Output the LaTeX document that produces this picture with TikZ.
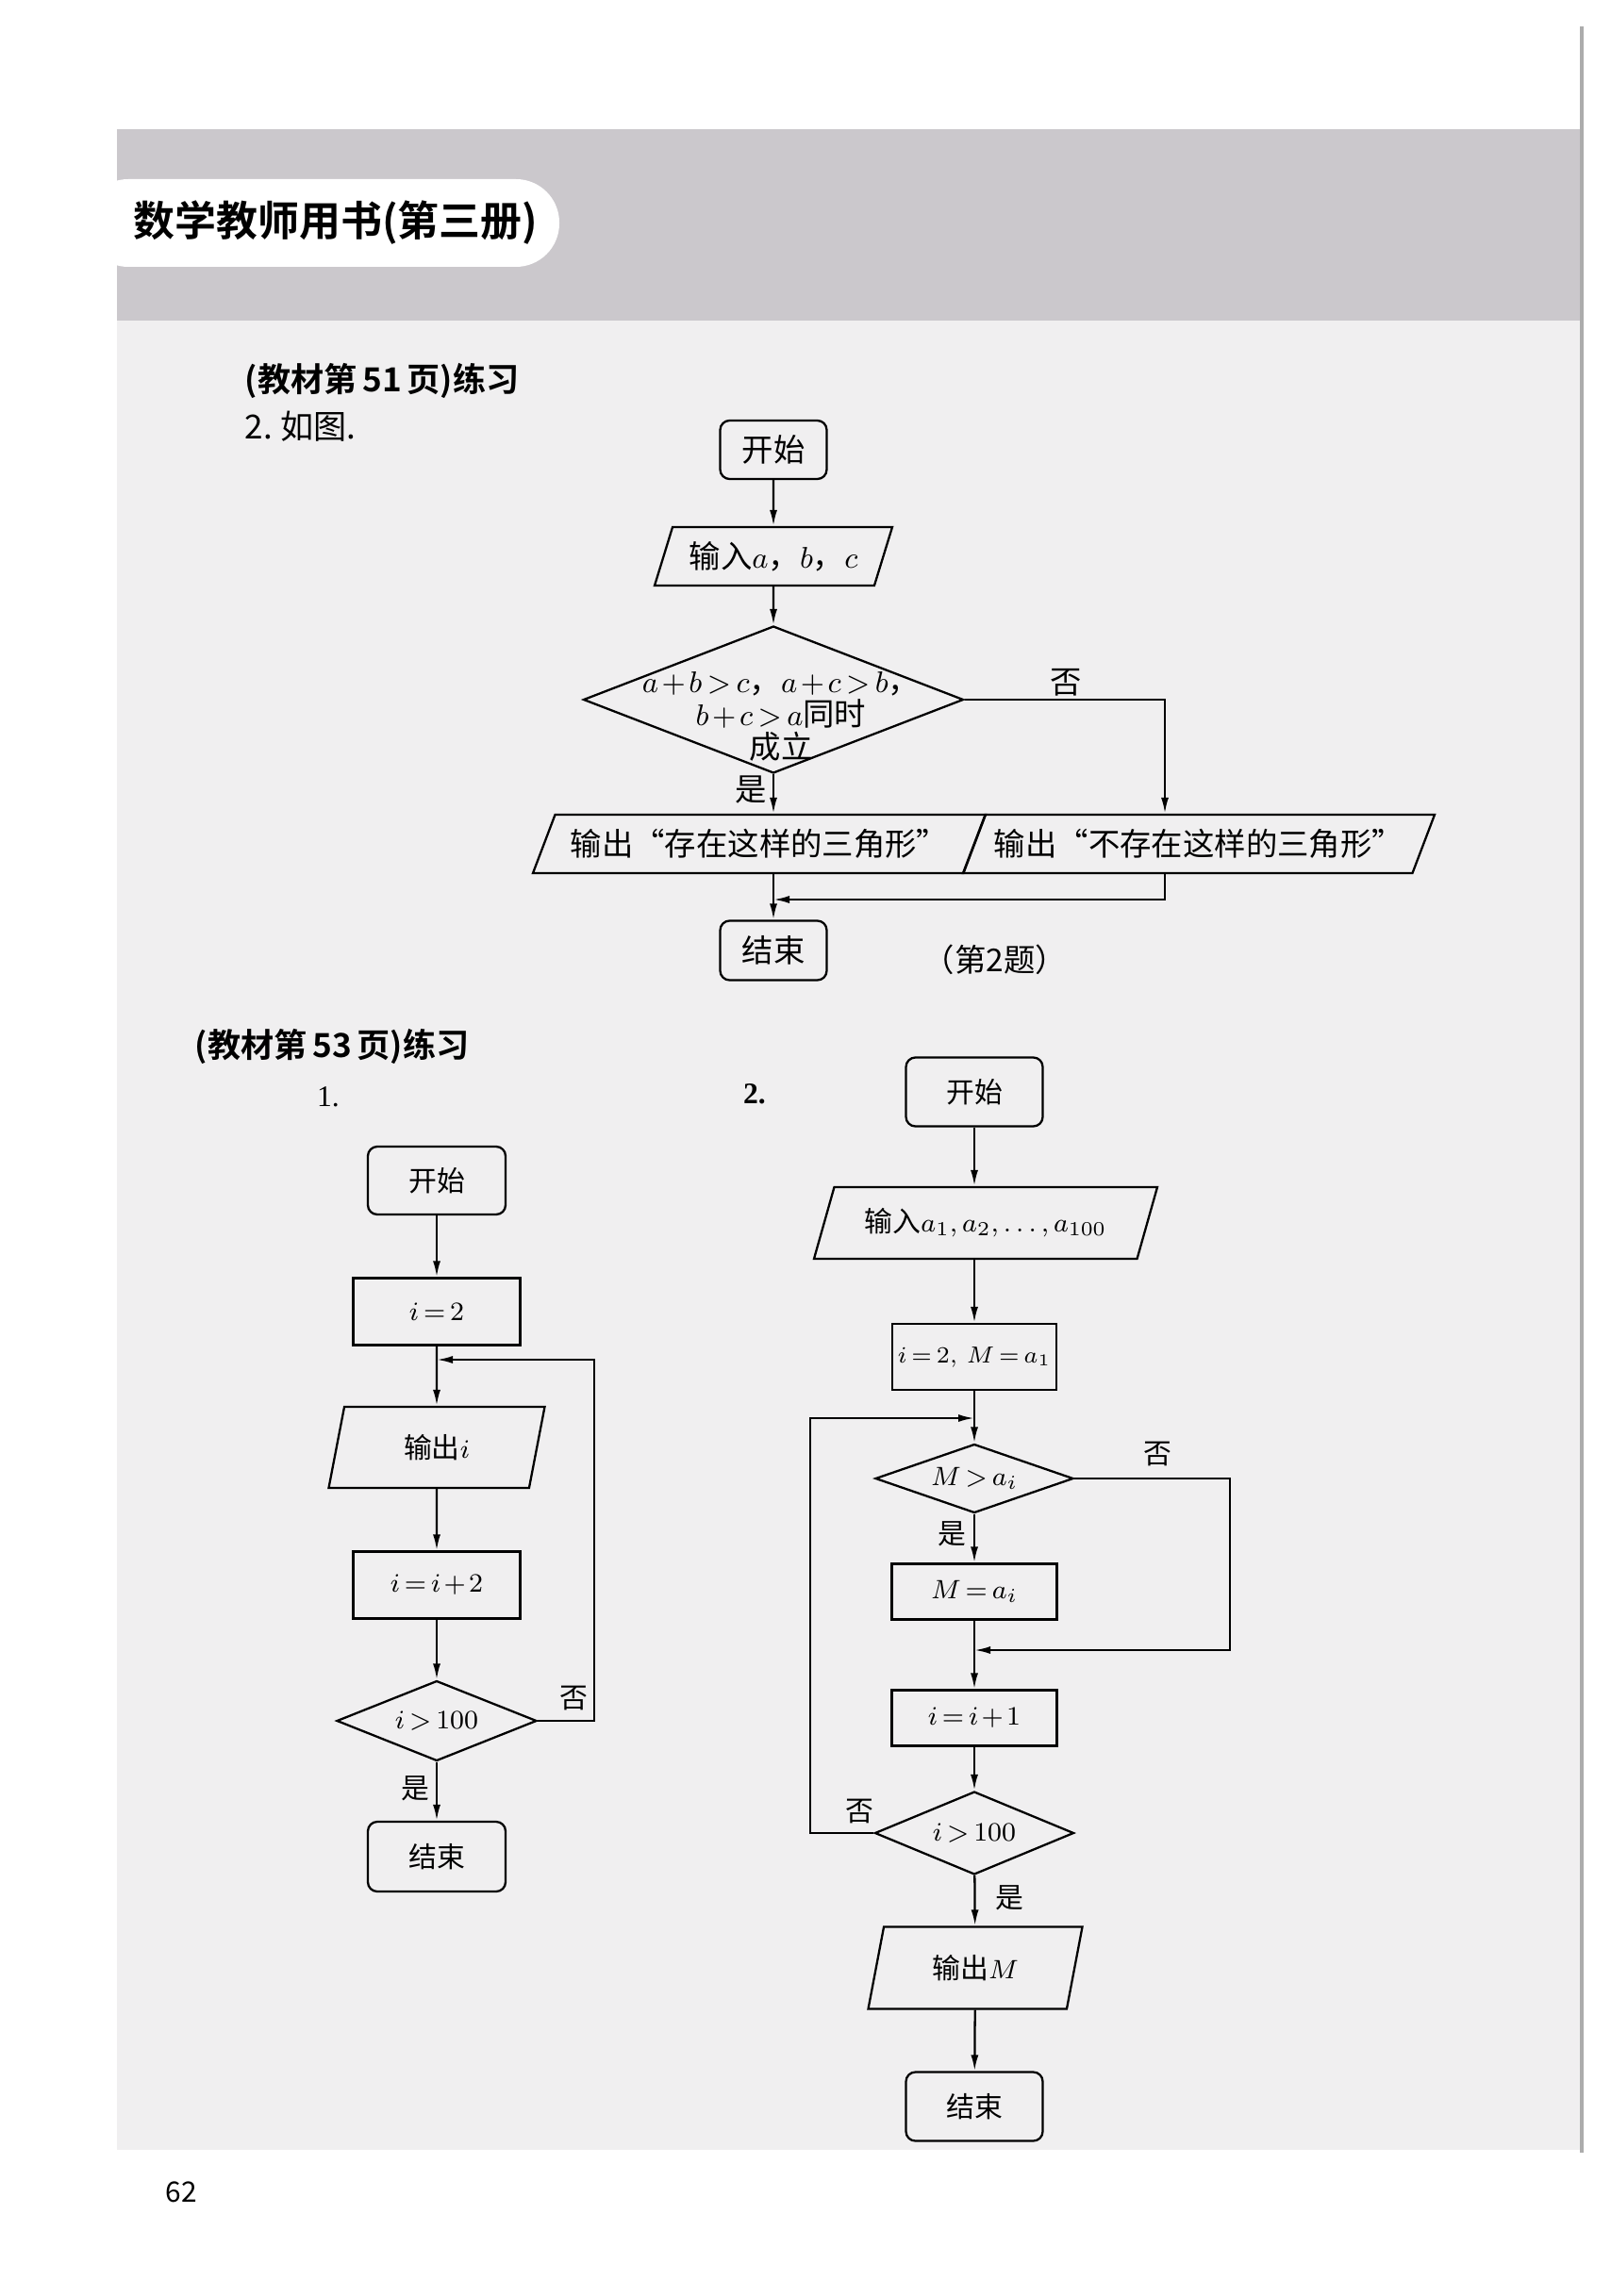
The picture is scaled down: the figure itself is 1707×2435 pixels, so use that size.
\documentclass[tikz,border=0pt]{standalone}
\usepackage{fontspec}
\setmainfont{Noto Sans CJK SC}[BoldFont={Noto Sans CJK SC Bold}]
\newfontfamily\tms{Liberation Serif}
\usetikzlibrary{shapes.geometric,arrows.meta}
\definecolor{paper}{RGB}{240,239,240}
\definecolor{band}{RGB}{203,200,204}
\medmuskip=2mu
\thickmuskip=3mu
\begin{document}
\begin{tikzpicture}[x=0.1mm,y=-0.1mm,line width=0.65pt,
  term/.style={draw,rectangle,rounded corners=1mm,inner sep=0},
  proc/.style={draw,rectangle,inner sep=0},
  io/.style={draw,trapezium,trapezium left angle=#1,trapezium right angle=180-#1,trapezium stretches body,inner sep=0},
  dec/.style={draw,diamond,aspect=2.5,inner sep=0},
  arr/.style={-{Latex[length=1.7mm,width=0.8mm]}},
  big/.style={font=\fontsize{9.5}{8.6}\selectfont},
  small/.style={font=\fontsize{8.5}{10}\selectfont},
  head/.style={anchor=west,font=\bfseries\fontsize{10}{12}\selectfont}]
\useasboundingbox (0,0) rectangle (1707,2435);
\fill[white] (0,0) rectangle (1707,2435);
\fill[paper] (124,137) rectangle (1677,2280);
\fill[band] (124,137) rectangle (1677,340);
\fill[white,rounded corners=4.6mm] (90,190) rectangle (593,283);
\draw[gray!65,line width=0.35mm] (1677,28) -- (1677,2283);
\node[font=\bfseries\fontsize{12.5}{15}\selectfont] (title) at (356,236) {数学教师用书(第三册)};
\node[head] (h1) at (247,404) {(教材第\,51\,页)练习};
\node[anchor=west,font=\fontsize{10}{12}\selectfont] (t1) at (247,452) {2.\ 如图.};
\node[head] (h2) at (194,1110) {(教材第\,53\,页)练习};
\node[font=\tms\fontsize{9}{11}\selectfont] (n1) at (348,1163) {1.};
\node[font=\tms\bfseries\fontsize{9}{11}\selectfont] (n2) at (800,1160) {2.};
\node[font=\fontsize{8.5}{10}\selectfont] (page) at (192,2325) {62};

\begin{scope}[big]
\node[term,minimum width=11.3mm,minimum height=6.2mm] (s0) at (820,477) {开始};
\node[io=59,minimum width=25.2mm,minimum height=6.2mm] (in0) at (820,590) {输入$a$，$b$，$c$};
\node[dec,minimum width=40.3mm,minimum height=15.6mm] (q0) at (820,742) {};
\node[align=center] (q0t) at (828,760) {$a+b>c$，$a+c>b$，\\$b+c>a$同时\\成立};
\node[io=53,minimum width=48mm,minimum height=6.2mm] (o0) at (805,895) {输出“存在这样的三角形”};
\node[io=53,minimum width=50mm,minimum height=6.2mm] (u0) at (1271,895) {输出“不存在这样的三角形”};
\node[term,minimum width=11.3mm,minimum height=6.3mm] (e0) at (820,1008) {结束};
\node (cap0) at (1055,1018) {（第2题）};
\node (no0) at (1130,724) {否};
\node (yes0) at (796,838) {是};
\coordinate (n0) at (1235,742);
\coordinate (m0) at (820,954);
\end{scope}
\draw[arr] (s0) -- (in0);
\draw[arr] (in0) -- (q0);
\draw[arr] (q0) -- (q0 |- o0.north);
\draw[arr] (q0.east) -| (n0 |- u0.north);
\draw[arr] (u0.south -| n0) |- (m0);
\draw[arr] (o0.south -| e0) -- (e0);

\begin{scope}[small]
\node[term,minimum width=14.6mm,minimum height=7.2mm] (s1) at (463,1252) {开始};
\node[proc,minimum width=17.7mm,minimum height=7.1mm] (i1) at (463,1391) {$i=2$};
\node[io=59,minimum width=22.9mm,minimum height=8.6mm] (o1) at (463,1535) {输出$i$};
\node[proc,minimum width=17.7mm,minimum height=7.1mm] (u1) at (463,1681) {$i=i+2$};
\node[dec,minimum width=21.2mm,minimum height=8.5mm] (q1) at (463,1825) {$i>100$};
\node[term,minimum width=14.6mm,minimum height=7.4mm] (e1) at (463,1969) {结束};
\node (no1) at (608,1801) {否};
\node (yes1) at (440,1897) {是};
\coordinate (j1) at (463,1442);
\coordinate (r1) at (630,1442);
\end{scope}
\draw[arr] (s1) -- (i1);
\draw[arr] (i1) -- (o1);
\draw[arr] (o1) -- (u1);
\draw[arr] (u1) -- (q1);
\draw[arr] (q1) -- (e1);
\draw[arr] (q1.east) -| (r1) -- (j1);

\begin{scope}[small]
\node[term,minimum width=14.5mm,minimum height=7.3mm] (s2) at (1033,1158) {开始};
\node[io=55,minimum width=36.4mm,minimum height=7.6mm] (in2) at (1045,1297) {输入$a_1,a_2,\dots,a_{100}$};
\node[proc,minimum width=17.4mm,minimum height=7mm,font=\fontsize{7.5}{9}\selectfont] (i2) at (1033,1439) {$i=2,\,M=a_1$};
\node[dec,minimum width=21mm,minimum height=7.3mm] (q2) at (1033,1568) {$M>a_i$};
\node[proc,minimum width=17.5mm,minimum height=5.9mm] (m2) at (1033,1688) {$M=a_i$};
\node[proc,minimum width=17.5mm,minimum height=5.9mm] (u2) at (1033,1822) {$i=i+1$};
\node[dec,minimum width=21.1mm,minimum height=8.8mm] (r2) at (1033,1944) {$i>100$};
\node[io=59,minimum width=22.7mm,minimum height=8.7mm] (o2) at (1034,2087) {输出$M$};
\node[term,minimum width=14.5mm,minimum height=7.3mm] (e2) at (1033,2234) {结束};
\node (no2) at (1227,1542) {否};
\node (yes2) at (1009,1627) {是};
\node (no3) at (911,1921) {否};
\node (yes3) at (1070,2013) {是};
\coordinate (j2) at (1033,1504);
\coordinate (l2) at (859,1504);
\coordinate (k2) at (1033,1750);
\coordinate (ne2) at (1304,1750);
\end{scope}
\draw[arr] (s2) -- (s2 |- in2.north);
\draw[arr] (in2.south -| i2) -- (i2);
\draw[arr] (i2) -- (q2);
\draw[arr] (q2) -- (m2);
\draw[arr] (m2) -- (u2);
\draw[arr] (u2) -- (r2);
\draw[arr] (r2) -- (o2);
\draw[arr] (o2) -- (e2);
\draw[arr] (q2.east) -| (ne2) -- (k2);
\draw[arr] (r2.west) -| (l2) -- (j2);
\end{tikzpicture}
\end{document}
